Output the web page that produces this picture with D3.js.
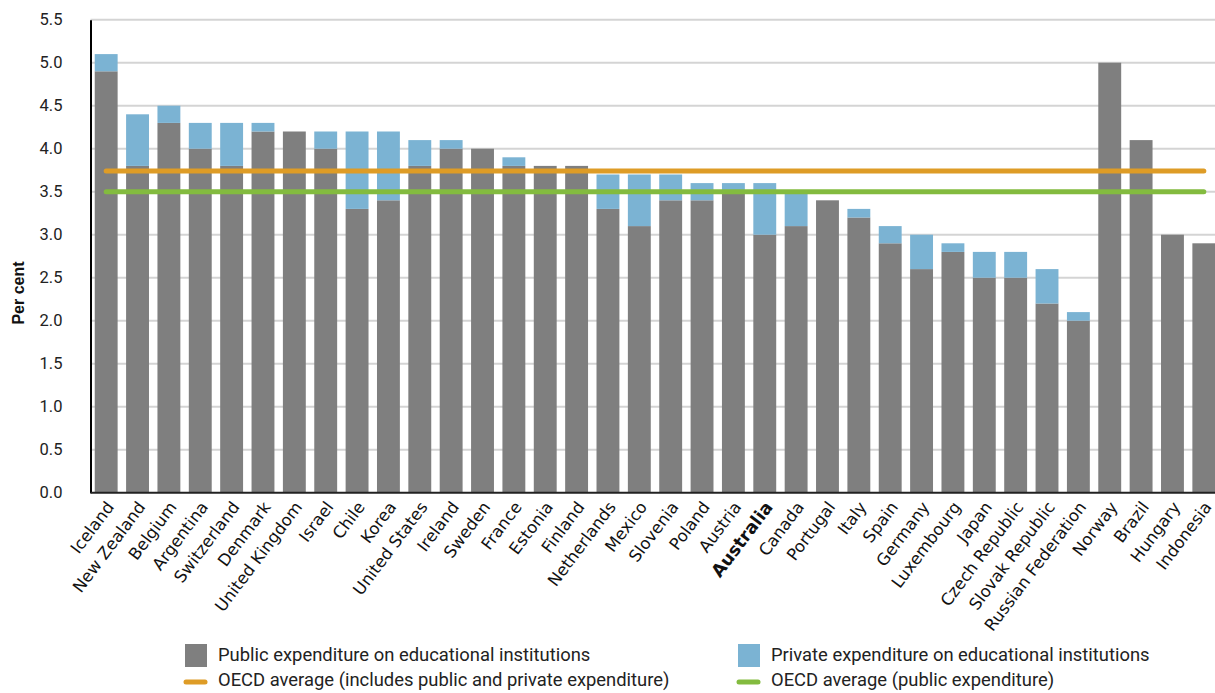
<!DOCTYPE html>
<html>
<head>
<meta charset="utf-8">
<script src="https://cdn.jsdelivr.net/npm/d3@7"></script>
<style>
  body { margin: 0; background: #fff; }
  svg { display: block; }
</style>
</head>
<body>
<div id="chart"></div>
<script>
// countries, left to right
var countries = ["Iceland", "New Zealand", "Belgium", "Argentina", "Switzerland", "Denmark",
    "United Kingdom", "Israel", "Chile", "Korea", "United States", "Ireland", "Sweden", "France",
    "Estonia", "Finland", "Netherlands", "Mexico", "Slovenia", "Poland", "Austria", "Australia",
    "Canada", "Portugal", "Italy", "Spain", "Germany", "Luxembourg", "Japan", "Czech Republic",
    "Slovak Republic", "Russian Federation", "Norway", "Brazil", "Hungary", "Indonesia"];

// public expenditure (% of GDP)
var publicExp = [4.9, 3.8, 4.3, 4.0, 3.8, 4.2, 4.2, 4.0, 3.3, 3.4, 3.8, 4.0, 4.0, 3.8,
    3.8, 3.8, 3.3, 3.1, 3.4, 3.4, 3.5, 3.0, 3.1, 3.4, 3.2, 2.9, 2.6, 2.8, 2.5, 2.5,
    2.2, 2.0, 5.0, 4.1, 3.0, 2.9];

// private expenditure (% of GDP), stacked on top
var privateExp = [0.2, 0.6, 0.2, 0.3, 0.5, 0.1, 0.0, 0.2, 0.9, 0.8, 0.3, 0.1, 0.0, 0.1,
    0.0, 0.0, 0.4, 0.6, 0.3, 0.2, 0.1, 0.6, 0.4, 0.0, 0.1, 0.2, 0.4, 0.1, 0.3, 0.3,
    0.4, 0.1, 0.0, 0.0, 0.0, 0.0];

var oecdTotal = 3.74;
var oecdPublic = 3.5;

var yTicks = [0, 0.5, 1, 1.5, 2, 2.5, 3, 3.5, 4, 4.5, 5, 5.5];

var legendItems = [
    {label: "Public expenditure on educational institutions", color: "#7f7f7f", type: "box"},
    {label: "Private expenditure on educational institutions", color: "#7bb3d3", type: "box"},
    {label: "OECD average (includes public and private expenditure)", color: "#de9c26", type: "line"},
    {label: "OECD average (public expenditure)", color: "#83bb3f", type: "line"}
];

var width = 1215, height = 693;
var plot = {left: 90.5, right: 1219.5, top: 19.7, bottom: 492.7};
var condensed = "'Roboto', sans-serif";

var svg = d3.select("#chart").append("svg")
    .attr("width", width)
    .attr("height", height);

// heading mostly above the visible area, as in the source
svg.append("text")
    .attr("x", 232)
    .attr("y", -4)
    .attr("fill", "#5aa8d6")
    .style("font-family", "'Roboto', sans-serif")
    .style("font-size", "20px")
    .text("Expenditure on primary and secondary education as a percentage of GDP, 2011");

var x = d3.scaleBand()
    .domain(countries)
    .range([plot.left, plot.right])
    .paddingInner(0.27)
    .paddingOuter(0.135);

var y = d3.scaleLinear()
    .domain([0, 5.5])
    .range([plot.bottom, plot.top]);

// gridlines
svg.append("g")
    .selectAll("line")
    .data(yTicks.filter(function(d) { return d > 0; }))
    .enter().append("line")
    .attr("x1", plot.left)
    .attr("x2", width)
    .attr("y1", function(d) { return y(d); })
    .attr("y2", function(d) { return y(d); })
    .attr("stroke", "#d4d4d4")
    .attr("stroke-width", 2);

// y axis
var yAxis = svg.append("g")
    .attr("transform", "translate(" + plot.left + ",0)")
    .call(d3.axisLeft(y).tickValues(yTicks).tickFormat(d3.format(".1f")).tickSize(0).tickPadding(28));
yAxis.select(".domain").attr("stroke", "#000").attr("stroke-width", 2);
yAxis.selectAll("text")
    .style("font-family", condensed)
    .style("font-size", "16.5px")
    .attr("fill", "#222");

var stack = countries.map(function(c, i) {
    return {name: c, pub: publicExp[i], priv: privateExp[i]};
});

// public bars
svg.append("g")
    .selectAll("rect")
    .data(stack)
    .enter().append("rect")
    .attr("x", function(d) { return x(d.name); })
    .attr("width", x.bandwidth())
    .attr("y", function(d) { return y(d.pub); })
    .attr("height", function(d) { return y(0) - y(d.pub); })
    .attr("fill", "#7f7f7f");

// private bars
svg.append("g")
    .selectAll("rect")
    .data(stack.filter(function(d) { return d.priv > 0; }))
    .enter().append("rect")
    .attr("x", function(d) { return x(d.name); })
    .attr("width", x.bandwidth())
    .attr("y", function(d) { return y(d.pub + d.priv); })
    .attr("height", function(d) { return y(d.pub) - y(d.pub + d.priv); })
    .attr("fill", "#7bb3d3");

// x axis baseline
svg.append("line")
    .attr("x1", plot.left)
    .attr("x2", width)
    .attr("y1", y(0))
    .attr("y2", y(0))
    .attr("stroke", "#222")
    .attr("stroke-width", 2);

// OECD average lines
var lineX1 = x(countries[0]) + x.bandwidth() / 2,
    lineX2 = x(countries[countries.length - 1]) + x.bandwidth() / 2;
[[oecdTotal, "#de9c26"], [oecdPublic, "#83bb3f"]].forEach(function(l) {
    svg.append("line")
        .attr("x1", lineX1)
        .attr("x2", lineX2)
        .attr("y1", y(l[0]))
        .attr("y2", y(l[0]))
        .attr("stroke", l[1])
        .attr("stroke-width", 5)
        .attr("stroke-linecap", "round");
});

// category labels
svg.append("g")
    .selectAll("text")
    .data(countries)
    .enter().append("text")
    .attr("text-anchor", "end")
    .attr("transform", function(d) {
        return "translate(" + (x(d) + x.bandwidth() / 2 + 4) + "," + (y(0) + 11) + ") rotate(-53)";
    })
    .attr("dy", "0.35em")
    .style("font-family", "'DejaVu Sans', sans-serif")
    .style("font-size", function(d) { return d === "Australia" ? "17.5px" : "16.5px"; })
    .style("font-weight", function(d) { return d === "Australia" ? "bold" : "normal"; })
    .attr("fill", "#111")
    .text(function(d) { return d; });

// y axis title
svg.append("text")
    .attr("transform", "translate(24,293) rotate(-90)")
    .attr("text-anchor", "middle")
    .style("font-family", "'Liberation Sans', Arial, sans-serif")
    .style("font-size", "16px")
    .style("font-weight", "bold")
    .attr("fill", "#111")
    .text("Per cent");

// legend
var legendPos = [[185, 655], [738, 655], [185, 680], [738, 680]];
var legend = svg.append("g")
    .selectAll("g")
    .data(legendItems)
    .enter().append("g")
    .attr("transform", function(d, i) { return "translate(" + legendPos[i][0] + "," + legendPos[i][1] + ")"; });

legend.filter(function(d) { return d.type === "box"; })
    .append("rect")
    .attr("x", 0)
    .attr("y", -11)
    .attr("width", 22)
    .attr("height", 23)
    .attr("fill", function(d) { return d.color; });

legend.filter(function(d) { return d.type === "line"; })
    .append("line")
    .attr("x1", 1)
    .attr("x2", 20)
    .attr("y1", 2)
    .attr("y2", 2)
    .attr("stroke", function(d) { return d.color; })
    .attr("stroke-width", 5)
    .attr("stroke-linecap", "round");

legend.append("text")
    .attr("x", 33)
    .attr("dy", "0.35em")
    .style("font-family", condensed)
    .style("font-size", "18.4px")
    .attr("fill", "#222")
    .text(function(d) { return d.label; });
</script>
</body>
</html>
